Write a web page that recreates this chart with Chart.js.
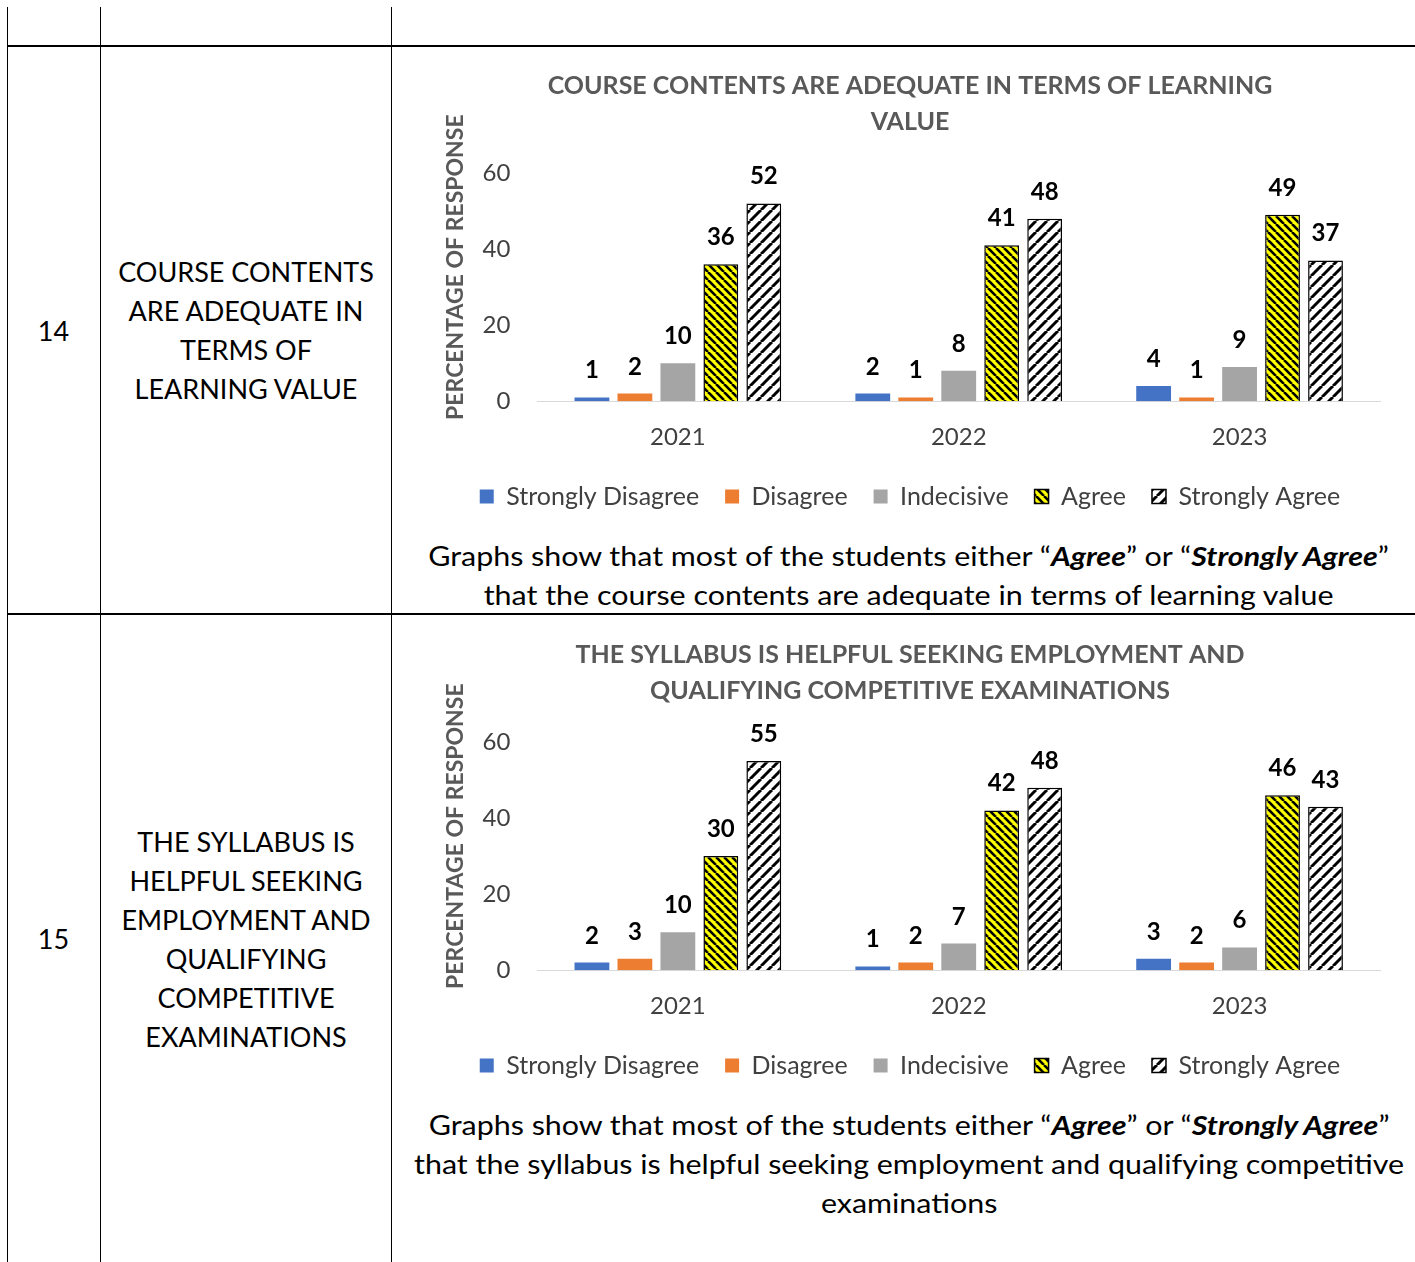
<!DOCTYPE html>
<html>
<head>
<meta charset="utf-8">
<script src="https://cdn.jsdelivr.net/npm/chart.js@4.4.0/dist/chart.umd.min.js"></script>
<style>
body { margin: 0; background: #fff; font-family: Lato, sans-serif; }
#page { position: relative; width: 1415px; height: 1262px; overflow: hidden; }
.vl { position: absolute; top: 7px; bottom: 0; width: 1px; background: #000; }
.hl { position: absolute; left: 7px; right: 0; height: 2px; background: #000; }
.cell { position: absolute; display: flex; align-items: center; justify-content: center;
        text-align: center; font-size: 27px; line-height: 39px; color: #000; }
.cap { position: absolute; left: 397px; width: 1024px; text-align: center;
       font-size: 26px; line-height: 39px; white-space: nowrap; color: #000; }
.cap span { display: inline-block; transform: scaleX(1.17); }
canvas { position: absolute; }
</style>
</head>
<body>
<div id="page">
  <div class="vl" style="left:7px"></div>
  <div class="vl" style="left:100px"></div>
  <div class="vl" style="left:391px"></div>
  <div class="hl" style="top:45px"></div>
  <div class="hl" style="top:613px"></div>

  <div class="cell" style="left:7px;width:93px;top:47px;height:566px">14</div>
  <div class="cell" style="left:101px;width:290px;top:47px;height:566px">COURSE CONTENTS<br>ARE ADEQUATE IN<br>TERMS OF<br>LEARNING VALUE</div>
  <div class="cell" style="left:7px;width:93px;top:615px;height:647px">15</div>
  <div class="cell" style="left:101px;width:290px;top:615px;height:647px">THE SYLLABUS IS<br>HELPFUL SEEKING<br>EMPLOYMENT AND<br>QUALIFYING<br>COMPETITIVE<br>EXAMINATIONS</div>

  <canvas id="chart1" width="985" height="475" style="left:420px;top:56px"></canvas>
  <div class="cap" style="top:537px"><span>Graphs show that most of the students either “<b><i>Agree</i></b>” or “<b><i>Strongly Agree</i></b>”<br>that the course contents are adequate in terms of learning value</span></div>

  <canvas id="chart2" width="985" height="475" style="left:420px;top:625px"></canvas>
  <div class="cap" style="top:1106px"><span>Graphs show that most of the students either “<b><i>Agree</i></b>” or “<b><i>Strongly Agree</i></b>”<br>that the syllabus is helpful seeking employment and qualifying competitive<br>examinations</span></div>
</div>

<script>
var years = ['2021', '2022', '2023'];
var seriesNames = ['Strongly Disagree', 'Disagree', 'Indecisive', 'Agree', 'Strongly Agree'];
var yTicks = [0, 20, 40, 60];
var yTitle = 'PERCENTAGE OF RESPONSE';

// chart 1: course contents
var c1StronglyDisagree = [1, 2, 4];
var c1Disagree = [2, 1, 1];
var c1Indecisive = [10, 8, 9];
var c1Agree = [36, 41, 49];
var c1StronglyAgree = [52, 48, 37];

// chart 2: syllabus
var c2StronglyDisagree = [2, 1, 3];
var c2Disagree = [3, 2, 2];
var c2Indecisive = [10, 7, 6];
var c2Agree = [30, 42, 46];
var c2StronglyAgree = [55, 48, 43];

function stripes(ctx, bg, fg, size, width, dir) {
    var c = document.createElement('canvas');
    c.width = size;
    c.height = size;
    var g = c.getContext('2d');
    g.fillStyle = bg;
    g.fillRect(0, 0, size, size);
    g.strokeStyle = fg;
    g.lineWidth = width;
    for (var k = -1; k <= 1; k++) {
        g.beginPath();
        if (dir == 'down') {
            g.moveTo(k * size, 0);
            g.lineTo(k * size + size, size);
        } else {
            g.moveTo(k * size, size);
            g.lineTo(k * size + size, 0);
        }
        g.stroke();
    }
    return ctx.createPattern(c, 'repeat');
}

var valueLabels = {
    id: 'valueLabels',
    afterDatasetsDraw: function (chart) {
        var ctx = chart.ctx;
        ctx.save();
        ctx.font = 'bold 24px Lato';
        ctx.fillStyle = '#000';
        ctx.textAlign = 'center';
        ctx.textBaseline = 'alphabetic';
        chart.data.datasets.forEach(function (ds, i) {
            chart.getDatasetMeta(i).data.forEach(function (bar, j) {
                ctx.fillText(ds.data[j], bar.x, bar.y - 19);
            });
        });
        ctx.restore();
    }
};

// axis title drawn a bit above the plot centre, like the original
var axisTitle = {
    id: 'axisTitle',
    afterDraw: function (chart) {
        var ctx = chart.ctx;
        var a = chart.chartArea;
        ctx.save();
        ctx.translate(a.left - 82, (a.top + a.bottom) / 2 - 20);
        ctx.rotate(-Math.PI / 2);
        ctx.font = 'bold 23px Lato';
        ctx.fillStyle = '#595959';
        ctx.textAlign = 'center';
        ctx.textBaseline = 'middle';
        ctx.fillText(yTitle, 0, 0);
        ctx.restore();
    }
};

function makeChart(id, titleLines, sd, d, ind, ag, sag) {
    var canvas = document.getElementById(id);
    var ctx = canvas.getContext('2d');
    var agreeFill = stripes(ctx, '#ffff00', '#000', 8, 2.6, 'down');
    var strongFill = stripes(ctx, '#ffffff', '#000', 11, 3, 'up');
    return new Chart(canvas, {
        type: 'bar',
        data: {
            labels: years,
            datasets: [
                { label: seriesNames[0], data: sd, backgroundColor: '#4472c4', borderWidth: 0 },
                { label: seriesNames[1], data: d, backgroundColor: '#ed7d31', borderWidth: 0 },
                { label: seriesNames[2], data: ind, backgroundColor: '#a5a5a5', borderWidth: 0 },
                { label: seriesNames[3], data: ag, backgroundColor: agreeFill, borderColor: '#000', borderWidth: 1.5 },
                { label: seriesNames[4], data: sag, backgroundColor: strongFill, borderColor: '#000', borderWidth: 1.5 }
            ]
        },
        options: {
            responsive: false,
            animation: false,
            devicePixelRatio: 1,
            datasets: { bar: { categoryPercentage: 0.765, barPercentage: 0.81 } },
            layout: { padding: { left: 20, right: 25, top: 0, bottom: 12 } },
            plugins: {
                title: {
                    display: true,
                    text: titleLines,
                    color: '#595959',
                    font: { family: 'Lato', size: 25, weight: 'bold', lineHeight: 1.44 },
                    padding: { top: 12, bottom: 33 }
                },
                legend: {
                    position: 'bottom',
                    labels: {
                        color: '#404040',
                        font: { family: 'Lato', size: 25 },
                        boxWidth: 14,
                        boxHeight: 14,
                        padding: 26
                    }
                },
                tooltip: { enabled: false }
            },
            scales: {
                x: {
                    grid: { display: false, drawTicks: false },
                    border: { display: true, color: '#d9d9d9', width: 1 },
                    ticks: { color: '#404040', font: { family: 'Lato', size: 24 }, padding: 22 },
                    afterFit: function (scale) { scale.height -= 16; }
                },
                y: {
                    min: 0,
                    max: 60,
                    afterBuildTicks: function (scale) {
                        scale.ticks = yTicks.map(function (v) { return { value: v }; });
                    },
                    afterFit: function (scale) { scale.width -= 28; },
                    grid: { display: false, drawTicks: false },
                    border: { display: false },
                    ticks: { color: '#404040', font: { family: 'Lato', size: 24 }, padding: 27 },
                    title: {
                        display: true,
                        text: yTitle,
                        color: 'rgba(0,0,0,0)',
                        font: { family: 'Lato', size: 23, weight: 'bold' },
                        padding: { top: 0, bottom: 16 }
                    }
                }
            }
        },
        plugins: [valueLabels, axisTitle]
    });
}

makeChart('chart1', ['COURSE CONTENTS ARE ADEQUATE IN TERMS OF LEARNING', 'VALUE'],
    c1StronglyDisagree, c1Disagree, c1Indecisive, c1Agree, c1StronglyAgree);
makeChart('chart2', ['THE SYLLABUS IS HELPFUL SEEKING EMPLOYMENT AND', 'QUALIFYING COMPETITIVE EXAMINATIONS'],
    c2StronglyDisagree, c2Disagree, c2Indecisive, c2Agree, c2StronglyAgree);
</script>
</body>
</html>
